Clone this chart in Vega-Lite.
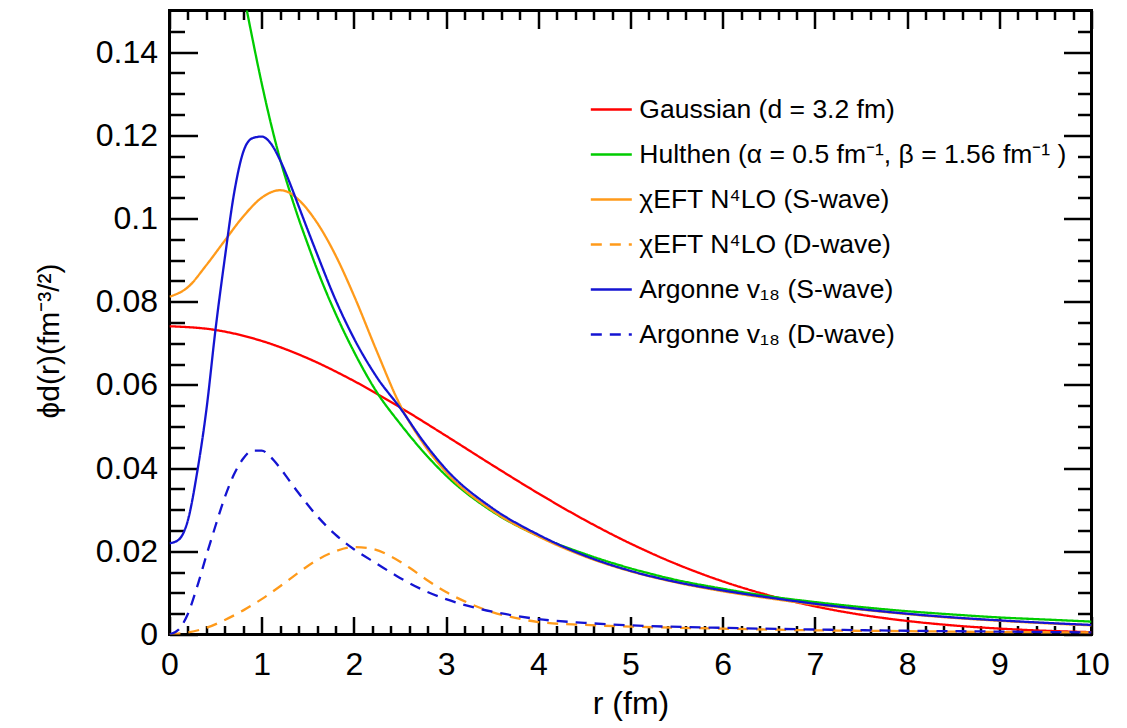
{
  "$schema": "https://vega.github.io/schema/vega-lite/v6.json",
  "width": 922,
  "height": 624,
  "autosize": {"type": "none"},
  "padding": {"left": 169.5, "top": 10.5, "right": 35.5, "bottom": 93.5},
  "background": "white",
  "config": {
    "view": {"stroke": "black", "strokeWidth": 3},
    "font": "Liberation Sans",
    "axis": {"grid": false, "domain": false, "labelFont": "Liberation Sans", "titleFont": "Liberation Sans", "labelColor": "black", "titleColor": "black", "tickColor": "black", "tickWidth": 2.5}
  },
  "data": {"values": [
    {"s":"Gaussian","r":0,"v":0.0741},{"s":"Gaussian","r":0.5,"v":0.0732},{"s":"Gaussian","r":1,"v":0.07057},{"s":"Gaussian","r":1.5,"v":0.06639},{"s":"Gaussian","r":2,"v":0.06095},{"s":"Gaussian","r":2.5,"v":0.05461},{"s":"Gaussian","r":3,"v":0.04775},{"s":"Gaussian","r":3.5,"v":0.04074},{"s":"Gaussian","r":4,"v":0.03393},{"s":"Gaussian","r":4.5,"v":0.02757},{"s":"Gaussian","r":5,"v":0.02186},{"s":"Gaussian","r":5.5,"v":0.01692},{"s":"Gaussian","r":6,"v":0.01278},{"s":"Gaussian","r":6.5,"v":0.00942},{"s":"Gaussian","r":7,"v":0.00677},{"s":"Gaussian","r":7.5,"v":0.00475},{"s":"Gaussian","r":8,"v":0.00326},{"s":"Gaussian","r":8.5,"v":0.00218},{"s":"Gaussian","r":9,"v":0.00142},{"s":"Gaussian","r":9.5,"v":0.0009},{"s":"Gaussian","r":10,"v":0.00056},
    {"s":"Hulthen","r":0.75,"v":0.1609},{"s":"Hulthen","r":0.8,"v":0.1546},{"s":"Hulthen","r":0.9,"v":0.1432},{"s":"Hulthen","r":1.0,"v":0.1325},{"s":"Hulthen","r":1.1,"v":0.1228},{"s":"Hulthen","r":1.2,"v":0.1142},{"s":"Hulthen","r":1.3,"v":0.1068},{"s":"Hulthen","r":1.4,"v":0.1000},{"s":"Hulthen","r":1.5,"v":0.0938},{"s":"Hulthen","r":1.6,"v":0.0878},{"s":"Hulthen","r":1.8,"v":0.0772},{"s":"Hulthen","r":2.0,"v":0.0680},{"s":"Hulthen","r":2.25,"v":0.0582},{"s":"Hulthen","r":2.5,"v":0.0507},{"s":"Hulthen","r":2.75,"v":0.0440},{"s":"Hulthen","r":3.0,"v":0.0382},{"s":"Hulthen","r":3.5,"v":0.0296},{"s":"Hulthen","r":4,"v":0.0237},{"s":"Hulthen","r":4.5,"v":0.0194},{"s":"Hulthen","r":5,"v":0.0159},{"s":"Hulthen","r":5.5,"v":0.0131},{"s":"Hulthen","r":6,"v":0.0110},{"s":"Hulthen","r":6.5,"v":0.0092},{"s":"Hulthen","r":7,"v":0.0078},{"s":"Hulthen","r":7.5,"v":0.0066},{"s":"Hulthen","r":8,"v":0.0056},{"s":"Hulthen","r":8.5,"v":0.0048},{"s":"Hulthen","r":9,"v":0.0041},{"s":"Hulthen","r":9.5,"v":0.0036},{"s":"Hulthen","r":10,"v":0.0031},
    {"s":"EFT-S","r":0,"v":0.0812},{"s":"EFT-S","r":0.2,"v":0.0835},{"s":"EFT-S","r":0.4,"v":0.0888},{"s":"EFT-S","r":0.6,"v":0.0947},{"s":"EFT-S","r":0.8,"v":0.1005},{"s":"EFT-S","r":1.0,"v":0.1050},{"s":"EFT-S","r":1.1,"v":0.1063},{"s":"EFT-S","r":1.2,"v":0.1068},{"s":"EFT-S","r":1.3,"v":0.1062},{"s":"EFT-S","r":1.4,"v":0.1045},{"s":"EFT-S","r":1.6,"v":0.0990},{"s":"EFT-S","r":1.8,"v":0.0912},{"s":"EFT-S","r":2.0,"v":0.0815},{"s":"EFT-S","r":2.25,"v":0.0680},{"s":"EFT-S","r":2.5,"v":0.0552},{"s":"EFT-S","r":2.75,"v":0.0460},{"s":"EFT-S","r":3.0,"v":0.0390},{"s":"EFT-S","r":3.5,"v":0.0298},{"s":"EFT-S","r":4,"v":0.0236},{"s":"EFT-S","r":4.5,"v":0.0188},{"s":"EFT-S","r":5,"v":0.0152},{"s":"EFT-S","r":5.5,"v":0.0125},{"s":"EFT-S","r":6,"v":0.0104},{"s":"EFT-S","r":6.5,"v":0.0087},{"s":"EFT-S","r":7,"v":0.0072},{"s":"EFT-S","r":7.5,"v":0.0060},{"s":"EFT-S","r":8,"v":0.0049},{"s":"EFT-S","r":8.5,"v":0.0040},{"s":"EFT-S","r":9,"v":0.0033},{"s":"EFT-S","r":9.5,"v":0.0027},{"s":"EFT-S","r":10,"v":0.0022},
    {"s":"EFT-D","r":0,"v":0},{"s":"EFT-D","r":0.2,"v":0.0005},{"s":"EFT-D","r":0.4,"v":0.0016},{"s":"EFT-D","r":0.6,"v":0.0035},{"s":"EFT-D","r":0.8,"v":0.0058},{"s":"EFT-D","r":1.0,"v":0.0085},{"s":"EFT-D","r":1.2,"v":0.0116},{"s":"EFT-D","r":1.4,"v":0.0149},{"s":"EFT-D","r":1.6,"v":0.0179},{"s":"EFT-D","r":1.8,"v":0.0200},{"s":"EFT-D","r":2.0,"v":0.0210},{"s":"EFT-D","r":2.2,"v":0.0206},{"s":"EFT-D","r":2.4,"v":0.0188},{"s":"EFT-D","r":2.6,"v":0.0161},{"s":"EFT-D","r":2.8,"v":0.0130},{"s":"EFT-D","r":3.0,"v":0.0102},{"s":"EFT-D","r":3.25,"v":0.0075},{"s":"EFT-D","r":3.5,"v":0.0054},{"s":"EFT-D","r":3.75,"v":0.0040},{"s":"EFT-D","r":4.0,"v":0.0030},{"s":"EFT-D","r":4.5,"v":0.0023},{"s":"EFT-D","r":5,"v":0.0019},{"s":"EFT-D","r":6,"v":0.0014},{"s":"EFT-D","r":7,"v":0.0010},{"s":"EFT-D","r":8,"v":0.0008},{"s":"EFT-D","r":9,"v":0.0006},{"s":"EFT-D","r":10,"v":0.0005},
    {"s":"AV18-S","r":0,"v":0.0219},{"s":"AV18-S","r":0.1,"v":0.0228},{"s":"AV18-S","r":0.2,"v":0.0275},{"s":"AV18-S","r":0.3,"v":0.0390},{"s":"AV18-S","r":0.4,"v":0.0540},{"s":"AV18-S","r":0.5,"v":0.0735},{"s":"AV18-S","r":0.6,"v":0.0905},{"s":"AV18-S","r":0.7,"v":0.1060},{"s":"AV18-S","r":0.8,"v":0.1160},{"s":"AV18-S","r":0.9,"v":0.1193},{"s":"AV18-S","r":1.0,"v":0.1197},{"s":"AV18-S","r":1.1,"v":0.1180},{"s":"AV18-S","r":1.2,"v":0.1140},{"s":"AV18-S","r":1.3,"v":0.1088},{"s":"AV18-S","r":1.4,"v":0.1030},{"s":"AV18-S","r":1.5,"v":0.0972},{"s":"AV18-S","r":1.6,"v":0.0915},{"s":"AV18-S","r":1.8,"v":0.0805},{"s":"AV18-S","r":2.0,"v":0.0712},{"s":"AV18-S","r":2.25,"v":0.0618},{"s":"AV18-S","r":2.5,"v":0.0545},{"s":"AV18-S","r":2.75,"v":0.0465},{"s":"AV18-S","r":3.0,"v":0.0397},{"s":"AV18-S","r":3.5,"v":0.0304},{"s":"AV18-S","r":4,"v":0.0240},{"s":"AV18-S","r":4.5,"v":0.0190},{"s":"AV18-S","r":5,"v":0.0153},{"s":"AV18-S","r":5.5,"v":0.0126},{"s":"AV18-S","r":6,"v":0.0106},{"s":"AV18-S","r":6.5,"v":0.0089},{"s":"AV18-S","r":7,"v":0.0074},{"s":"AV18-S","r":7.5,"v":0.0061},{"s":"AV18-S","r":8,"v":0.0050},{"s":"AV18-S","r":8.5,"v":0.0041},{"s":"AV18-S","r":9,"v":0.0034},{"s":"AV18-S","r":9.5,"v":0.0028},{"s":"AV18-S","r":10,"v":0.0023},
    {"s":"AV18-D","r":0,"v":0},{"s":"AV18-D","r":0.1,"v":0.0012},{"s":"AV18-D","r":0.2,"v":0.0050},{"s":"AV18-D","r":0.3,"v":0.0115},{"s":"AV18-D","r":0.4,"v":0.0190},{"s":"AV18-D","r":0.5,"v":0.0262},{"s":"AV18-D","r":0.6,"v":0.0330},{"s":"AV18-D","r":0.7,"v":0.0385},{"s":"AV18-D","r":0.8,"v":0.0423},{"s":"AV18-D","r":0.9,"v":0.0442},{"s":"AV18-D","r":1.0,"v":0.0442},{"s":"AV18-D","r":1.1,"v":0.0426},{"s":"AV18-D","r":1.2,"v":0.0400},{"s":"AV18-D","r":1.3,"v":0.0370},{"s":"AV18-D","r":1.4,"v":0.0340},{"s":"AV18-D","r":1.6,"v":0.0285},{"s":"AV18-D","r":1.8,"v":0.0240},{"s":"AV18-D","r":2.0,"v":0.0205},{"s":"AV18-D","r":2.25,"v":0.0170},{"s":"AV18-D","r":2.5,"v":0.0136},{"s":"AV18-D","r":2.75,"v":0.0107},{"s":"AV18-D","r":3.0,"v":0.0085},{"s":"AV18-D","r":3.25,"v":0.0068},{"s":"AV18-D","r":3.5,"v":0.0055},{"s":"AV18-D","r":3.75,"v":0.0045},{"s":"AV18-D","r":4.0,"v":0.0037},{"s":"AV18-D","r":4.5,"v":0.0028},{"s":"AV18-D","r":5,"v":0.0022},{"s":"AV18-D","r":6,"v":0.0016},{"s":"AV18-D","r":7,"v":0.0012},{"s":"AV18-D","r":8,"v":0.0009},{"s":"AV18-D","r":9,"v":0.0007},{"s":"AV18-D","r":10,"v":0.0005}
  ]},
  "resolve": {"axis": {"x": "independent", "y": "independent"}},
  "layer": [
    {
      "mark": {"type": "line", "strokeWidth": 2.3, "clip": true, "interpolate": "monotone"},
      "encoding": {
        "x": {"field": "r", "type": "quantitative", "scale": {"domain": [0, 10], "nice": false, "zero": false},
          "axis": {"orient": "bottom", "values": [0,1,2,3,4,5,6,7,8,9,10], "ticks": false, "labelFontSize": 32, "labelPadding": 15, "labelFlush": false, "title": "r (fm)", "titleFontSize": 32, "titleFontWeight": "normal", "titlePadding": 8}},
        "y": {"field": "v", "type": "quantitative", "scale": {"domain": [0, 0.15], "nice": false, "zero": false},
          "axis": {"orient": "left", "values": [0,0.02,0.04,0.06,0.08,0.1,0.12,0.14], "format": ".2~f", "ticks": false, "labelFontSize": 32, "labelPadding": 12, "labelFlush": false, "title": "ϕd(r)(fm⁻³/²)", "titleFontSize": 30, "titleFontWeight": "normal", "titlePadding": 31, "titleY": 330}},
        "color": {"field": "s", "type": "nominal",
          "scale": {"domain": ["Gaussian","Hulthen","EFT-S","EFT-D","AV18-S","AV18-D"], "range": ["#ff0000","#00cc00","#ff9a1a","#ff9a1a","#1414d2","#1414d2"]},
          "legend": {"orient": "none", "legendX": 419.8, "legendY": 77, "title": null, "symbolType": "stroke", "symbolSize": 1681, "symbolStrokeWidth": 2.5, "labelFontSize": 26.5, "labelFont": "Liberation Sans", "labelColor": "black", "labelLimit": 700, "labelOffset": 6, "rowPadding": 9, "padding": 0,
            "labelExpr": "{'Gaussian':'Gaussian (d = 3.2 fm)','Hulthen':'Hulthen (α = 0.5 fm⁻¹, β = 1.56 fm⁻¹ )','EFT-S':'χEFT N⁴LO (S-wave)','EFT-D':'χEFT N⁴LO (D-wave)','AV18-S':'Argonne v₁₈ (S-wave)','AV18-D':'Argonne v₁₈ (D-wave)'}[datum.label]"}},
        "strokeDash": {"field": "s", "type": "nominal",
          "scale": {"domain": ["Gaussian","Hulthen","EFT-S","EFT-D","AV18-S","AV18-D"], "range": [[1,0],[1,0],[1,0],[11,8],[1,0],[11,8]]},
          "legend": {"orient": "none", "legendX": 419.8, "legendY": 77, "title": null, "symbolType": "stroke", "symbolSize": 1681, "symbolStrokeWidth": 2.5, "labelFontSize": 26.5, "labelFont": "Liberation Sans", "labelColor": "black", "labelLimit": 700, "labelOffset": 6, "rowPadding": 9, "padding": 0,
            "labelExpr": "{'Gaussian':'Gaussian (d = 3.2 fm)','Hulthen':'Hulthen (α = 0.5 fm⁻¹, β = 1.56 fm⁻¹ )','EFT-S':'χEFT N⁴LO (S-wave)','EFT-D':'χEFT N⁴LO (D-wave)','AV18-S':'Argonne v₁₈ (S-wave)','AV18-D':'Argonne v₁₈ (D-wave)'}[datum.label]"}}
      }
    },
    {
      "mark": {"type": "point", "opacity": 0},
      "encoding": {
        "x": {"field": "r", "type": "quantitative", "scale": {"domain": [0, 10], "nice": false, "zero": false},
          "axis": {"orient": "bottom", "values": [0,1,2,3,4,5,6,7,8,9,10], "labels": false, "tickSize": -18, "tickWidth": 2.5, "title": null}},
        "y": {"field": "v", "type": "quantitative", "scale": {"domain": [0, 0.15], "nice": false, "zero": false},
          "axis": {"orient": "left", "values": [0,0.02,0.04,0.06,0.08,0.1,0.12,0.14], "labels": false, "tickSize": -28, "tickWidth": 2.5, "title": null}}
      }
    },
    {
      "mark": {"type": "point", "opacity": 0},
      "encoding": {
        "x": {"field": "r", "type": "quantitative", "scale": {"domain": [0, 10], "nice": false, "zero": false},
          "axis": {"orient": "bottom", "values": [0.2,0.4,0.6,0.8,1.2,1.4,1.6,1.8,2.2,2.4,2.6,2.8,3.2,3.4,3.6,3.8,4.2,4.4,4.6,4.8,5.2,5.4,5.6,5.8,6.2,6.4,6.6,6.8,7.2,7.4,7.6,7.8,8.2,8.4,8.6,8.8,9.2,9.4,9.6,9.8], "labels": false, "tickSize": -9, "tickWidth": 2.5, "title": null}},
        "y": {"field": "v", "type": "quantitative", "scale": {"domain": [0, 0.15], "nice": false, "zero": false},
          "axis": {"orient": "left", "values": [0.005,0.01,0.015,0.025,0.03,0.035,0.045,0.05,0.055,0.065,0.07,0.075,0.085,0.09,0.095,0.105,0.11,0.115,0.125,0.13,0.135,0.145], "labels": false, "tickSize": -15, "tickWidth": 2.5, "title": null}}
      }
    },
    {
      "mark": {"type": "point", "opacity": 0},
      "encoding": {
        "x": {"field": "r", "type": "quantitative", "scale": {"domain": [0, 10], "nice": false, "zero": false},
          "axis": {"orient": "top", "values": [0,1,2,3,4,5,6,7,8,9,10], "labels": false, "tickSize": -18, "tickWidth": 2.5, "title": null}},
        "y": {"field": "v", "type": "quantitative", "scale": {"domain": [0, 0.15], "nice": false, "zero": false},
          "axis": {"orient": "right", "values": [0,0.02,0.04,0.06,0.08,0.1,0.12,0.14], "labels": false, "tickSize": -28, "tickWidth": 2.5, "title": null}}
      }
    },
    {
      "mark": {"type": "point", "opacity": 0},
      "encoding": {
        "x": {"field": "r", "type": "quantitative", "scale": {"domain": [0, 10], "nice": false, "zero": false},
          "axis": {"orient": "top", "values": [0.2,0.4,0.6,0.8,1.2,1.4,1.6,1.8,2.2,2.4,2.6,2.8,3.2,3.4,3.6,3.8,4.2,4.4,4.6,4.8,5.2,5.4,5.6,5.8,6.2,6.4,6.6,6.8,7.2,7.4,7.6,7.8,8.2,8.4,8.6,8.8,9.2,9.4,9.6,9.8], "labels": false, "tickSize": -9, "tickWidth": 2.5, "title": null}},
        "y": {"field": "v", "type": "quantitative", "scale": {"domain": [0, 0.15], "nice": false, "zero": false},
          "axis": {"orient": "right", "values": [0.005,0.01,0.015,0.025,0.03,0.035,0.045,0.05,0.055,0.065,0.07,0.075,0.085,0.09,0.095,0.105,0.11,0.115,0.125,0.13,0.135,0.145], "labels": false, "tickSize": -14, "tickWidth": 2.5, "title": null}}
      }
    }
  ]
}
